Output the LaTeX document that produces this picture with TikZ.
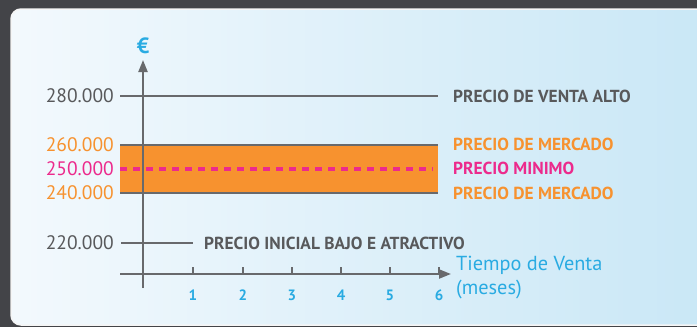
\documentclass[tikz,border=0pt]{standalone}
\usepackage{fontspec}
\setmainfont{PT Sans}
\usetikzlibrary{arrows.meta}
\definecolor{frameC}{HTML}{434448}
\definecolor{lineC}{HTML}{68696C}
\definecolor{txtC}{HTML}{58595B}
\definecolor{orC}{HTML}{F7922F}
\definecolor{pkC}{HTML}{EC2A8C}
\definecolor{blC}{HTML}{29ABE2}
\definecolor{bgL}{HTML}{F3F9FD}
\definecolor{bgR}{HTML}{C9E7F6}
\tikzset{
  axisline/.style={draw=lineC, line width=2.2pt},
  arrowtip/.style={-{Triangle[length=12pt,width=9pt]}},
  numlabel/.style={anchor=east, inner sep=0pt, font=\fontsize{19.5}{19.5}\selectfont},
  caplabel/.style={anchor=west, inner sep=0pt, font=\fontsize{17.4}{17.4}\selectfont\bfseries},
  ticklabel/.style={inner sep=0pt, text=blC, font=\fontsize{15}{15}\selectfont\bfseries},
}
\begin{document}
\begin{tikzpicture}[x=1pt,y=-1pt]
\useasboundingbox (0,0) rectangle (697,327);
\fill[frameC] (0,0) rectangle (697,327);
\shade[rounded corners=10pt, left color=bgL, right color=bgR, draw=white!92!gray, line width=1.5pt] (11,9) rectangle (715,325);
% band
\fill[orC] (120,145) rectangle (438,193);
\coordinate (b1) at (120,145); \coordinate (b2) at (438,145);
\coordinate (b3) at (120,193); \coordinate (b4) at (438,193);
\draw[axisline] (b1) -- (b2);
\draw[axisline] (b3) -- (b4);
\coordinate (d1) at (120,169); \coordinate (d2) at (433,169);
\draw[draw=pkC, line width=3.2pt, dash pattern=on 7pt off 6pt] (d1) -- (d2);
% high line
\coordinate (h1) at (120,96); \coordinate (h2) at (438,96);
\draw[axisline] (h1) -- (h2);
% low line
\coordinate (l1) at (121,243); \coordinate (l2) at (193,243);
\draw[axisline] (l1) -- (l2);
% axes
\coordinate (y0) at (143,288); \coordinate (y1) at (143,60);
\draw[axisline, arrowtip, fill=lineC] (y0) -- (y1);
\coordinate (x0) at (120,274); \coordinate (x1) at (451,274);
\draw[axisline, arrowtip] (x0) -- (x1);
\foreach \i/\xx in {1/193,2/243,3/292,4/341,5/390,6/439}{
  \coordinate (t\i) at (\xx,267); \coordinate (tb\i) at (\xx,274);
  \draw[axisline] (t\i) -- (tb\i);
  \node[ticklabel] (tl\i) at (\xx,295) {\i};
}
% labels
\node[inner sep=0pt, text=blC, font=\fontsize{22}{22}\selectfont\bfseries] (eur) at (143,46) {€};
\node[numlabel, text=txtC] (n280) at (114,96) {280.000};
\node[numlabel, text=orC] (n260) at (114,145) {260.000};
\node[numlabel, text=pkC] (n250) at (114,169) {250.000};
\node[numlabel, text=orC] (n240) at (114,193) {240.000};
\node[numlabel, text=txtC] (n220) at (114,243) {220.000};
\node[caplabel, text=txtC] (c1) at (453,96) {PRECIO DE VENTA ALTO};
\node[caplabel, text=orC] (c2) at (453,144) {PRECIO DE MERCADO};
\node[caplabel, text=pkC] (c3) at (453,168) {PRECIO MINIMO};
\node[caplabel, text=orC] (c4) at (453,193) {PRECIO DE MERCADO};
\node[caplabel, text=txtC] (c5) at (204,243) {PRECIO INICIAL BAJO E ATRACTIVO};
\node[anchor=west, inner sep=0pt, text=blC, font=\fontsize{20.3}{20.3}\selectfont] (tv) at (456,265) {Tiempo de Venta};
\node[anchor=west, inner sep=0pt, text=blC, font=\fontsize{20.3}{20.3}\selectfont] (ms) at (456,290) {(meses)};
\end{tikzpicture}
\end{document}
